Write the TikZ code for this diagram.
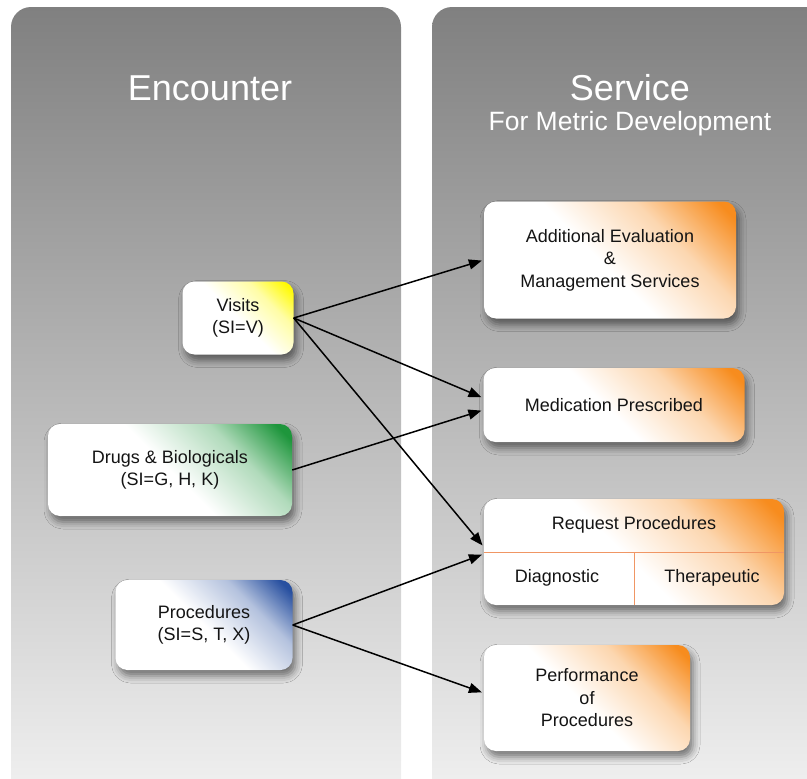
\documentclass[tikz,border=0pt]{standalone}
\usepackage{fontspec}
\setmainfont{Liberation Sans}
\usetikzlibrary{arrows.meta,shadows.blur}

\definecolor{paneltop}{RGB}{128,128,128}
\definecolor{panelbot}{RGB}{244,244,244}
\definecolor{svcorange}{RGB}{247,140,30}
\definecolor{visyellow}{RGB}{255,250,0}
\definecolor{druggreen}{RGB}{30,150,60}
\definecolor{procblue}{RGB}{40,80,160}
\definecolor{divline}{RGB}{240,150,100}

% diagonal fills: white body, colour gathered in the upper right corner
\pgfdeclarehorizontalshading{fillorange}{100bp}{color(0bp)=(white); color(48bp)=(white); color(66bp)=(svcorange!35!white); color(82bp)=(svcorange); color(100bp)=(svcorange)}
\pgfdeclarehorizontalshading{fillyellow}{100bp}{color(0bp)=(white); color(50bp)=(white); color(68bp)=(visyellow!35!white); color(82bp)=(visyellow); color(100bp)=(visyellow)}
\pgfdeclarehorizontalshading{fillgreen}{100bp}{color(0bp)=(white); color(50bp)=(white); color(68bp)=(druggreen!35!white); color(82bp)=(druggreen); color(100bp)=(druggreen)}
\pgfdeclarehorizontalshading{fillblue}{100bp}{color(0bp)=(white); color(50bp)=(white); color(68bp)=(procblue!35!white); color(82bp)=(procblue); color(100bp)=(procblue)}

\tikzset{
  boxtext/.style={font=\fontsize{18}{22.5}\selectfont, text=black!92},
  box/.style={boxtext, rounded corners=12pt, align=center, inner sep=0pt, shading angle=45,
    blur shadow={shadow xshift=3pt, shadow yshift=-6pt, shadow blur radius=7pt, shadow opacity=50}},
  link/.style={-{Triangle[length=13pt,width=10pt]}, line width=1.5pt, shorten >=2pt},
  paneltitle/.style={text=white, font=\fontsize{36}{40}\selectfont},
  panelsub/.style={text=white, font=\fontsize{26.5}{30}\selectfont},
  panel/.style={top color=paneltop, bottom color=panelbot, rounded corners=20pt},
  cellline/.style={draw=divline, line width=0.9pt},
}

\begin{document}
\begin{tikzpicture}[x=1pt, y=-1pt]
  \useasboundingbox (0,0) rectangle (807,779);
  \clip (0,0) rectangle (807,779);

  % two columns
  \path[panel] (11,7) rectangle (401,820);
  \path[panel] (432,7) rectangle (850,820);

  \node[paneltitle] (enc) at (210,88) {Encounter};
  \node[paneltitle] (svc) at (630,88) {Service};
  \node[panelsub] (svcsub) at (630,124) {For Metric Development};

  % encounter types
  \node[box, shading=fillyellow, minimum width=111pt, minimum height=73pt] (vis) at (238,318) {Visits\\(SI=V)};
  \node[box, shading=fillgreen, minimum width=244pt, minimum height=92pt] (drg) at (170,470) {Drugs \& Biologicals\\(SI=G, H, K)};
  \node[box, shading=fillblue, minimum width=177pt, minimum height=90pt] (prc) at (204,625) {Procedures\\(SI=S, T, X)};

  % service categories
  \node[box, shading=fillorange, minimum width=252pt, minimum height=117pt] (aem) at (610,260) {Additional Evaluation\\\&\\Management Services};
  \node[box, shading=fillorange, minimum width=261pt, minimum height=74pt] (med) at (614,405) {Medication Prescribed};
  \node[box, shading=fillorange, minimum width=300pt, minimum height=106pt] (req) at (634,552) {};
  \node[box, shading=fillorange, minimum width=206pt, minimum height=106pt] (prf) at (587,698) {Performance\\of\\Procedures};

  % request procedures split into header and two cells
  \draw[cellline] (req.west) -- (req.east);
  \draw[cellline] (req.center) -- (req.south);
  \node[boxtext] (reqhead) at (634,525) {Request Procedures};
  \node[boxtext] (diag) at (557,578) {Diagnostic};
  \node[boxtext] (ther) at (712,578) {Therapeutic};

  % mappings
  \draw[link] (vis.east) -- (aem.west);
  \draw[link] (vis.east) -- ([yshift=7pt]med.west);
  \draw[link] (drg.east) -- ([yshift=-5pt]med.west);
  \draw[link] (vis.east) -- ([yshift=5pt]req.west);
  \draw[link] (prc.east) -- ([yshift=-2pt]req.west);
  \draw[link] (prc.east) -- ([yshift=5pt]prf.west);
\end{tikzpicture}
\end{document}
